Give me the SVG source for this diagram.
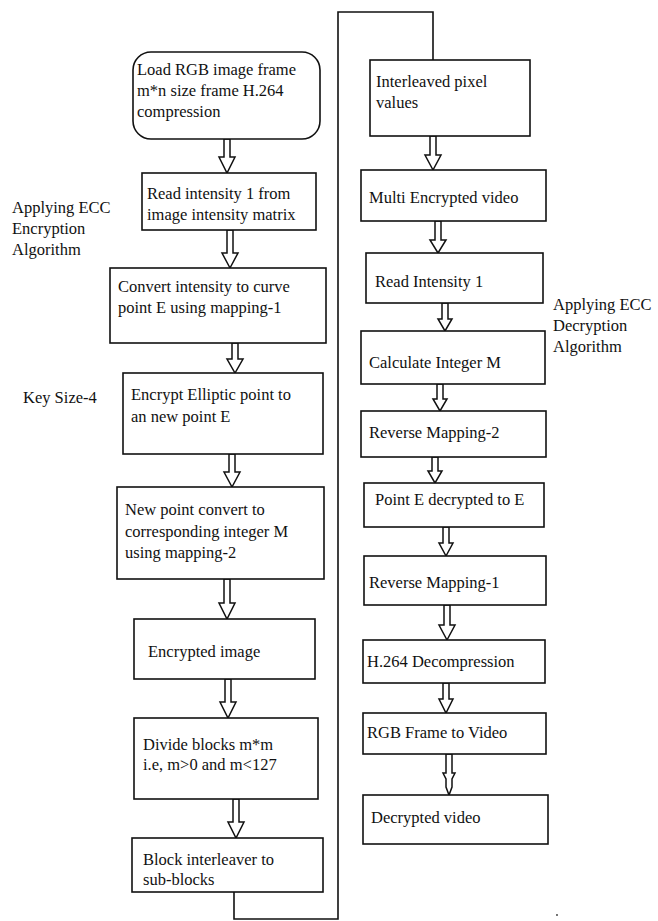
<svg xmlns="http://www.w3.org/2000/svg" width="658" height="921" viewBox="0 0 658 921">
<style>
.box{fill:#fff;stroke:#111;stroke-width:1.6}
.t{font-family:"Liberation Serif","Times New Roman",serif;font-size:16.5px;fill:#111}
.arr{fill:#fff;stroke:#111;stroke-width:1.5;stroke-linejoin:miter}
.ln{fill:none;stroke:#111;stroke-width:1.6}
</style>
<rect width="658" height="921" fill="#fff"/>
<g id="labels">
<text class="t" x="12" y="213">Applying ECC</text>
<text class="t" x="12" y="234">Encryption</text>
<text class="t" x="12" y="255">Algorithm</text>
<text class="t" x="23" y="403">Key Size-4</text>
<text class="t" x="553" y="310">Applying ECC</text>
<text class="t" x="553" y="331">Decryption</text>
<text class="t" x="553" y="352">Algorithm</text>
<circle cx="557" cy="915" r="0.9" fill="#333"/>
</g>
<g id="connectors">
<polyline class="ln" points="234,892 234,919 338,919 338,12 433,12 433,60"/>
<path class="arr" d="M224,139 H230 V157 H235 L227,173 L219,157 H224 Z"/>
<path class="arr" d="M227,230 H233 V253 H238 L230,268 L222,253 H227 Z"/>
<path class="arr" d="M232,343 H238 V359 H243 L235,373 L227,359 H232 Z"/>
<path class="arr" d="M229,454 H235 V472 H240 L232,487 L224,472 H229 Z"/>
<path class="arr" d="M224,579 H230 V603 H235 L227,619 L219,603 H224 Z"/>
<path class="arr" d="M225,679 H231 V702 H236 L228,718 L220,702 H225 Z"/>
<path class="arr" d="M233,799 H239 V822 H244 L236,838 L228,822 H233 Z"/>
<path class="arr" d="M430,136 H436 V155 H441 L433,170 L425,155 H430 Z"/>
<path class="arr" d="M435,221 H441 V240 H446 L438,253 L430,240 H435 Z"/>
<path class="arr" d="M442,303 H448 V319 H452 L445,331 L438,319 H442 Z"/>
<path class="arr" d="M437,384 H443 V399 H447 L440,411 L433,399 H437 Z"/>
<path class="arr" d="M432,457 H438 V471 H442 L435,483 L428,471 H432 Z"/>
<path class="arr" d="M443,527 H449 V543 H453 L446,556 L439,543 H443 Z"/>
<path class="arr" d="M444,605 H450 V625 H455 L447,640 L439,625 H444 Z"/>
<path class="arr" d="M443,683 H449 V699 H453 L446,713 L439,699 H443 Z"/>
<path class="arr" d="M446,754 H452 V773 H455 L452,779 V787 L449,795 L446,787 V779 L443,773 H446 Z"/>
</g>
<g id="n1"><rect class="box" x="133" y="52" width="187" height="87" rx="18"/>
<text class="t" x="137" y="75">Load RGB image frame</text>
<text class="t" x="137" y="96">m*n size frame H.264</text>
<text class="t" x="137" y="117">compression</text></g>
<g id="n2"><rect class="box" x="142" y="173" width="174" height="57"/>
<text class="t" x="147" y="199">Read intensity 1 from</text>
<text class="t" x="147" y="220">image intensity matrix</text></g>
<g id="n3"><rect class="box" x="110" y="268" width="216" height="75"/>
<text class="t" x="118" y="292">Convert intensity to curve</text>
<text class="t" x="118" y="313">point E using mapping-1</text></g>
<g id="n4"><rect class="box" x="123" y="373" width="200" height="81"/>
<text class="t" x="131" y="400">Encrypt Elliptic point to</text>
<text class="t" x="131" y="422">an new point E</text></g>
<g id="n5"><rect class="box" x="117" y="487" width="207" height="92"/>
<text class="t" x="125" y="515">New point convert to</text>
<text class="t" x="125" y="537">corresponding integer M</text>
<text class="t" x="125" y="558">using mapping-2</text></g>
<g id="n6"><rect class="box" x="134" y="619" width="181" height="60"/>
<text class="t" x="148" y="657">Encrypted image</text></g>
<g id="n7"><rect class="box" x="134" y="718" width="184" height="81"/>
<text class="t" x="143" y="750">Divide blocks m*m</text>
<text class="t" x="143" y="770">i.e, m&gt;0 and m&lt;127</text></g>
<g id="n8"><rect class="box" x="132" y="838" width="191" height="54"/>
<text class="t" x="143" y="865">Block interleaver to</text>
<text class="t" x="143" y="885">sub-blocks</text></g>
<g id="n9"><rect class="box" x="370" y="60" width="160" height="76"/>
<text class="t" x="376" y="87">Interleaved pixel</text>
<text class="t" x="376" y="108">values</text></g>
<g id="n10"><rect class="box" x="361" y="170" width="185" height="51"/>
<text class="t" x="369" y="203">Multi Encrypted video</text></g>
<g id="n11"><rect class="box" x="366" y="253" width="177" height="50"/>
<text class="t" x="375" y="287">Read Intensity 1</text></g>
<g id="n12"><rect class="box" x="361" y="331" width="184" height="53"/>
<text class="t" x="369" y="368">Calculate Integer M</text></g>
<g id="n13"><rect class="box" x="361" y="411" width="185" height="46"/>
<text class="t" x="369" y="438">Reverse Mapping-2</text></g>
<g id="n14"><rect class="box" x="364" y="483" width="180" height="44"/>
<text class="t" x="375" y="505">Point E decrypted to E</text></g>
<g id="n15"><rect class="box" x="364" y="556" width="182" height="49"/>
<text class="t" x="369" y="588">Reverse Mapping-1</text></g>
<g id="n16"><rect class="box" x="363" y="640" width="182" height="43"/>
<text class="t" x="367" y="667">H.264 Decompression</text></g>
<g id="n17"><rect class="box" x="363" y="713" width="183" height="41"/>
<text class="t" x="367" y="738">RGB Frame to Video</text></g>
<g id="n18"><rect class="box" x="363" y="795" width="185" height="49"/>
<text class="t" x="371" y="823">Decrypted video</text></g>
</svg>
